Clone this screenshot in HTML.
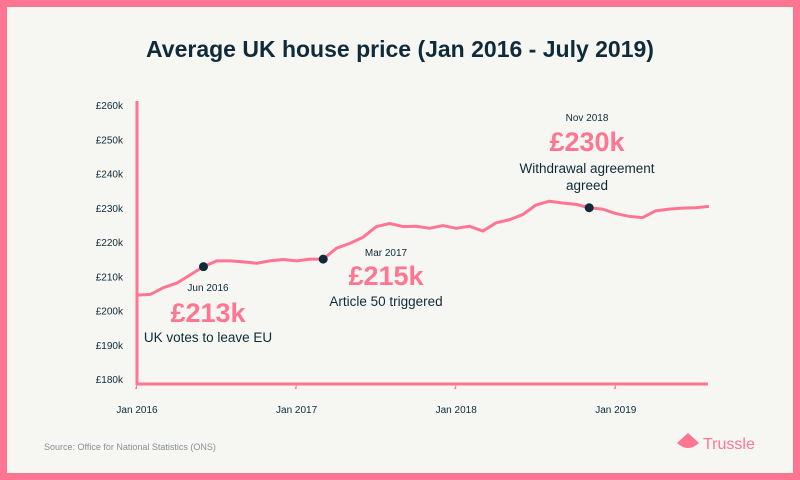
<!DOCTYPE html>
<html><head><meta charset="utf-8"><style>
html,body{margin:0;padding:0}
body{width:800px;height:480px;background:#ff7592;position:relative;overflow:hidden;font-family:"Liberation Sans",sans-serif}
#card{position:absolute;left:7px;top:7px;width:786px;height:466px;background:#f6f6f2}
</style></head><body>
<div id="card"></div>
<svg id="chart" width="800" height="480" style="position:absolute;left:0;top:0">
<text x="400" y="57" text-anchor="middle" font-size="23" font-weight="bold" fill="#0f2b3a">Average UK house price (Jan 2016 - July 2019)</text>
<g id="yaxis"></g>
<g id="xaxis"></g>
<g id="series"></g>
<g id="ann"></g>
<text x="44" y="450" font-size="9" fill="#8a8f95">Source: Office for National Statistics (ONS)</text>
<g>
<path d="M677 443 L688 433 L699 443 Q688 453 677 443 Z" fill="#ff7592"/>
<text x="703" y="449" font-size="16" fill="#ff7592">Trussle</text>
</g>
</svg>
<script>
const prices=[204.5,204.7,206.7,208,210.4,212.8,214.5,214.5,214.2,213.8,214.5,214.9,214.5,215,215,218.2,219.6,221.4,224.5,225.4,224.5,224.6,224,224.8,224,224.6,223.2,225.6,226.5,228,230.8,231.9,231.4,231,230,229.6,228.3,227.5,227.1,229.1,229.6,229.9,230,230.4];
const yTicks=[180,190,200,210,220,230,240,250,260];
const xTickLabels=["Jan 2016","Jan 2017","Jan 2018","Jan 2019"];
const events=[{i:5,date:"Jun 2016",value:"£213k",label:["UK votes to leave EU"]},{i:14,date:"Mar 2017",value:"£215k",label:["Article 50 triggered"]},{i:34,date:"Nov 2018",value:"£230k",label:["Withdrawal agreement","agreed"]}];
const NS="http://www.w3.org/2000/svg";
const x0=137,dx=13.3,yBase=379,ky=3.425;
const X=i=>x0+i*dx, Y=v=>yBase-(v-180)*ky;
function mk(t,a,p){const e=document.createElementNS(NS,t);for(const k in a)e.setAttribute(k,a[k]);p.appendChild(e);return e;}
const ya=document.getElementById('yaxis'),xa=document.getElementById('xaxis'),se=document.getElementById('series'),an=document.getElementById('ann');
mk('line',{x1:x0,y1:101,x2:x0,y2:385,stroke:'#ff7592','stroke-width':3},ya);
yTicks.forEach(v=>{const t=mk('text',{x:123,y:Y(v)+4,'text-anchor':'end','font-size':10,fill:'#0f2b3a'},ya);t.textContent='£'+v+'k';

});
mk('line',{x1:x0-1,y1:384,x2:708,y2:384,stroke:'#ff7592','stroke-width':3},xa);
xTickLabels.forEach((s,k)=>{const x=X(k*12);mk('path',{d:`M${x} 384 l-2 5 l2 0 z`,fill:'#ff7592'},xa);
const t=mk('text',{x:x,y:413,'text-anchor':'middle','font-size':10,fill:'#0f2b3a'},xa);t.textContent=s;

});
const pl=mk('polyline',{points:prices.map((v,i)=>X(i)+','+Y(v)).join(' '),fill:'none',stroke:'#ff7592','stroke-width':3,'stroke-linejoin':'round'},se);


const pos=[[208,291,322,342],[386,256,285,306],[587,121,151,173]];
events.forEach((e,k)=>{const c=mk('circle',{cx:X(e.i),cy:Y(prices[e.i]),r:4.5,fill:'#0f2b3a'},an);


const p=pos[k];
let t=mk('text',{x:p[0],y:p[1],'text-anchor':'middle','font-size':10,fill:'#0f2b3a'},an);t.textContent=e.date;
t=mk('text',{x:p[0],y:p[2],'text-anchor':'middle','font-size':27,'font-weight':'bold',fill:'#ff7592'},an);t.textContent=e.value;
e.label.forEach((l,j)=>{const u=mk('text',{x:p[0],y:p[3]+j*17,'text-anchor':'middle','font-size':13.5,fill:'#0f2b3a'},an);u.textContent=l;});
});
</script>
</body></html>
